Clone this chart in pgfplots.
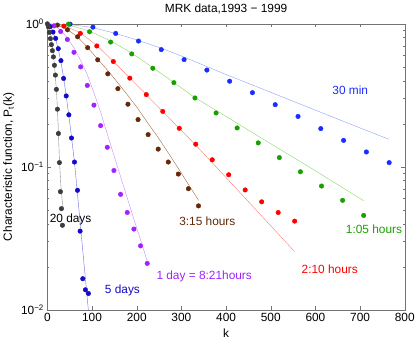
\documentclass[border=0pt]{standalone}
\usepackage{fontspec}
\setmainfont{Liberation Sans}
\usepackage{pgfplots}
\pgfplotsset{compat=1.18}

\definecolor{bluept}{RGB}{25,45,255}
\definecolor{blueln}{RGB}{140,160,255}
\definecolor{greenpt}{RGB}{25,160,0}
\definecolor{greenln}{RGB}{135,215,100}
\definecolor{redpt}{RGB}{255,0,0}
\definecolor{redln}{RGB}{255,125,125}
\definecolor{brownpt}{RGB}{100,40,8}
\definecolor{brownln}{RGB}{165,105,65}
\definecolor{purplept}{RGB}{160,35,255}
\definecolor{purpleln}{RGB}{200,135,255}
\definecolor{dbluept}{RGB}{20,10,200}
\definecolor{dblueln}{RGB}{110,110,225}
\definecolor{graypt}{RGB}{60,60,60}
\definecolor{grayln}{RGB}{140,140,140}

\begin{document}
\begin{tikzpicture}
\begin{axis}[
    scale only axis,
    width=360bp, height=288bp,
    ymode=log,
    xmin=0, xmax=800, ymin=0.01, ymax=1,
    xtick={0,100,...,800},
    ytick={0.01,0.1,1},
    yticklabels={10\textsuperscript{−2},10\textsuperscript{−1},10\textsuperscript{0}},
    /pgf/number format/assume math mode=true,
    tick align=inside,
    xtick pos=both, ytick pos=both,
    axis line style={black!55},
    every tick/.style={black!55},
    major tick length=3.5bp, minor tick length=2bp,
    tick label style={font=\fontsize{12}{14}\selectfont},
    label style={font=\fontsize{12}{14}\selectfont},
    title style={font=\fontsize{12}{14}\selectfont},
    title={MRK data,1993 − 1999},
    xlabel={k},
    ylabel={Characteristic function, P\textsubscript{t}(k)},
    mark size=2.3bp,
]
% 30 min
\addplot[blueln, thin] coordinates {(0,1) (50,0.989) (100,0.944) (150,0.861) (200,0.773) (250,0.684) (300,0.596) (350,0.513) (400,0.442) (500,0.332) (600,0.249) (700,0.187) (764,0.156)};
\addplot[only marks, mark=*, bluept] coordinates {(51,0.995) (102,0.948) (153,0.857) (204,0.758) (255,0.660) (306,0.562) (357,0.475) (408,0.397) (459,0.330) (510,0.272) (561,0.225) (612,0.185) (663,0.153) (714,0.127) (765,0.107)};
% 1:05 hours
\addplot[greenln, thin] coordinates {(0,1) (47,0.982) (94,0.891) (142,0.759) (189,0.624) (236,0.495) (283,0.389) (330,0.305) (400,0.225) (500,0.145) (600,0.0938) (708,0.0579)};
\addplot[only marks, mark=*, greenpt] coordinates {(47.2,0.995) (94.4,0.880) (141.6,0.746) (188.8,0.616) (236,0.489) (283.2,0.388) (330.4,0.303) (377.6,0.238) (424.8,0.187) (472,0.147) (519.2,0.116) (566.4,0.0923) (613.6,0.0734) (660.8,0.0583) (708,0.0457)};
% 2:10 hours
\addplot[redln, thin] coordinates {(0,1) (37,0.973) (73,0.871) (111,0.705) (147,0.547) (184,0.419) (221,0.320) (258,0.244) (295,0.186) (332,0.142) (400,0.0841) (480,0.0452) (553,0.0256)};
\addplot[only marks, mark=*, redpt] coordinates {(36.9,0.964) (73.8,0.857) (110.7,0.700) (147.6,0.545) (184.5,0.417) (221.4,0.320) (258.3,0.244) (295.2,0.186) (332.1,0.144) (369,0.112) (405.9,0.0880) (442.8,0.0689) (479.7,0.0569) (516.6,0.0479) (553.5,0.0417)};
% 3:15 hours
\addplot[brownln, thin] coordinates {(0,1) (22.5,0.977) (45,0.912) (67,0.813) (90,0.684) (112,0.569) (135,0.473) (157,0.389) (180,0.316) (202,0.257) (224,0.204) (247,0.162) (270,0.126) (293,0.0977) (315,0.0759) (338.5,0.0583)};
\addplot[only marks, mark=*, brownpt] coordinates {(22.55,0.98) (45.1,0.909) (67.65,0.812) (90.2,0.681) (112.75,0.560) (135.3,0.447) (157.85,0.352) (180.4,0.274) (202.95,0.214) (225.5,0.168) (248.05,0.133) (270.6,0.108) (293.15,0.089) (315.7,0.0703) (338.25,0.0533)};
% 1 day
\addplot[purpleln, thin] coordinates {(0,1) (15,0.977) (30,0.902) (45,0.794) (60,0.676) (75,0.550) (90,0.437) (105,0.324) (120,0.237) (135,0.166) (150,0.1175) (165,0.0832) (180,0.0589) (195,0.0417) (210,0.0299) (223.7,0.0218)};
\addplot[only marks, mark=*, purplept] coordinates {(14.9,0.968) (29.8,0.884) (44.7,0.778) (59.6,0.632) (74.5,0.500) (89.4,0.371) (104.3,0.270) (119.2,0.194) (134.1,0.137) (149,0.0942) (163.9,0.0642) (178.8,0.0479) (193.7,0.0367) (208.6,0.0280) (223.5,0.0211)};
% 5 days
\addplot[dblueln, thin] coordinates {(0,1) (6,0.966) (12,0.891) (18,0.794) (24,0.676) (30,0.550) (36,0.427) (42,0.316) (48,0.229) (54,0.162) (60.7,0.108) (67.4,0.0646) (74,0.0389) (80,0.0245) (86,0.0155) (92,0.00977)};
\addplot[only marks, mark=*, dbluept] coordinates {(6,0.955) (12.6,0.876) (18.5,0.791) (24.4,0.670) (30.4,0.553) (36.3,0.415) (42.2,0.313) (48.1,0.231) (54,0.159) (60.7,0.108) (67.4,0.0685) (73.3,0.0355) (79.3,0.0165) (85.2,0.0138) (91.8,0.0130)};
% 20 days
\addplot[grayln, thin] coordinates {(0,1) (3,0.966) (6,0.891) (9,0.794) (12,0.676) (15,0.550) (18,0.427) (21,0.316) (24,0.200) (27,0.112) (30,0.0759) (33,0.0589) (35.5,0.0513)};
\addplot[only marks, mark=*, graypt] coordinates {(0,1) (2.25,0.953) (4.5,0.871) (6.75,0.787) (9,0.715) (11.25,0.649) (13.5,0.587) (15.75,0.513) (18,0.438) (20.25,0.348) (22.5,0.253) (24.75,0.171) (27,0.107) (29.25,0.067) (31.5,0.051) (33.75,0.039)};

\node[text=bluept, font=\fontsize{12}{14}\selectfont] at (axis cs:678,0.343) {30 min};
\node[text=greenpt, font=\fontsize{12}{14}\selectfont] at (axis cs:731,0.0365) {1:05 hours};
\node[text=redpt, font=\fontsize{12}{14}\selectfont] at (axis cs:632,0.0193) {2:10 hours};
\node[text=brownpt, font=\fontsize{12}{14}\selectfont] at (axis cs:358,0.0418) {3:15 hours};
\node[text=purplept, font=\fontsize{12}{14}\selectfont] at (axis cs:351,0.0171) {1 day = 8:21hours};
\node[text=dbluept, font=\fontsize{12}{14}\selectfont] at (axis cs:168,0.0136) {5 days};
\node[text=black, font=\fontsize{12}{14}\selectfont] at (axis cs:52,0.043) {20 days};
\end{axis}
\path ([shift={(-45bp,-29bp)}]current axis.south west) rectangle ([shift={(13bp,24bp)}]current axis.north east);
\end{tikzpicture}
\end{document}
